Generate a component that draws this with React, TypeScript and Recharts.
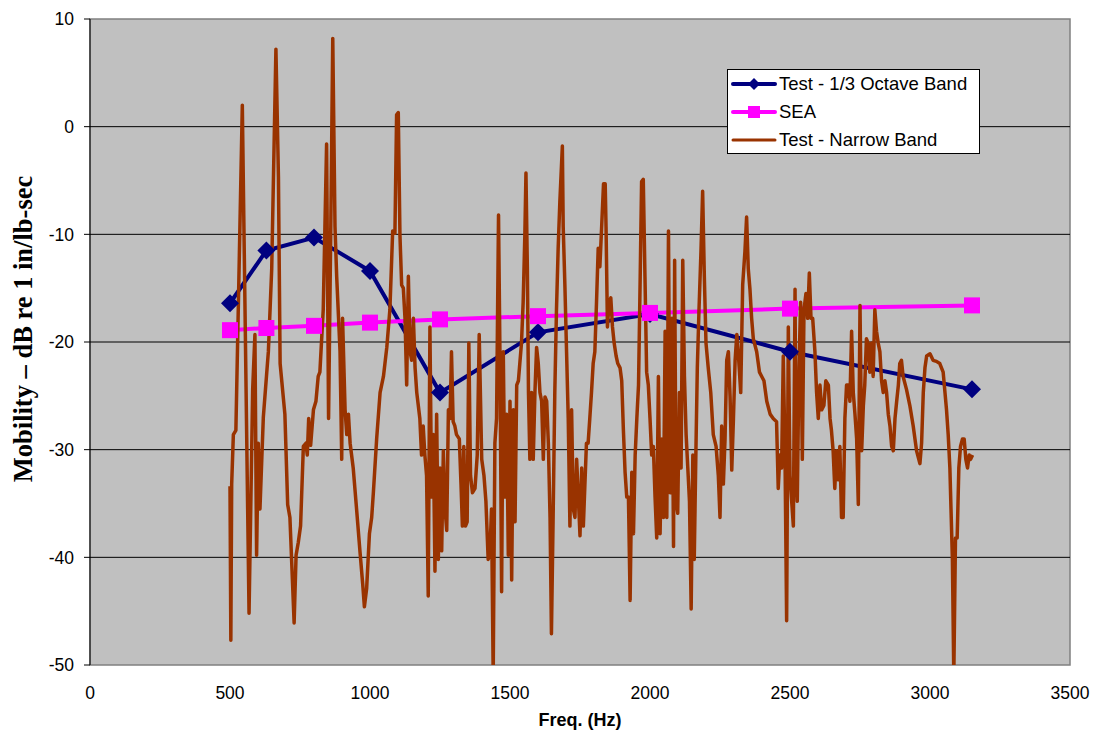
import React from 'react';
import { LineChart, Line, XAxis, YAxis, ReferenceLine, ReferenceArea, Legend, Label } from 'recharts';

const OCTAVE_FREQ = [500, 630, 800, 1000, 1250, 1600, 2000, 2500, 3150];
const OCTAVE_TEST = [-16.4, -11.5, -10.3, -13.4, -24.7, -19.1, -17.4, -20.9, -24.4];
const SEA_VALUES = [-18.9, -18.7, -18.5, -18.2, -17.9, -17.6, -17.3, -16.9, -16.6];

const NARROW_FREQ = [
  500, 503, 506, 512, 521, 544, 568, 581, 589, 595, 601, 607, 619, 637, 649, 664, 673, 679, 696, 706,
  714, 729, 736, 744, 752, 762, 771, 776, 781, 788, 798, 807, 815, 821, 833, 839, 845, 852, 860, 867,
  875, 881, 893, 899, 902, 911, 917, 923, 929, 940, 952, 964, 974, 980, 988, 998, 1006, 1012, 1024, 1036,
  1048, 1060, 1071, 1081, 1089, 1095, 1101, 1107, 1113, 1119, 1125, 1131, 1137, 1143,
  1149, 1155, 1161, 1167, 1178, 1184, 1190, 1196, 1202, 1208, 1214, 1220, 1226, 1232, 1238, 1244, 1250,
  1256, 1262, 1268, 1274, 1280, 1286, 1291, 1297, 1303, 1309, 1319, 1325, 1330, 1335, 1341, 1347, 1353,
  1359, 1366, 1375, 1383, 1390, 1399, 1407, 1414, 1422, 1428, 1434, 1440, 1446, 1452, 1459, 1464, 1470,
  1476, 1482, 1488, 1494, 1500, 1506, 1512, 1518, 1524, 1530, 1535, 1541, 1547, 1553, 1557, 1562, 1566,
  1571, 1577, 1583, 1589, 1595, 1601, 1607, 1613, 1619, 1625, 1631, 1637, 1643, 1648, 1654, 1660, 1666,
  1672, 1678, 1687, 1690, 1696, 1702, 1708, 1714, 1720, 1726, 1732, 1738, 1744, 1750, 1756, 1762, 1767,
  1773, 1779, 1785, 1791, 1797, 1803, 1809, 1815, 1821,
  1828, 1834, 1840, 1843, 1848, 1854, 1860, 1866, 1872, 1879, 1885, 1893, 1899, 1905, 1911, 1917, 1923,
  1929, 1935, 1941, 1947, 1953, 1959, 1965, 1970, 1976, 1982, 1988, 1994, 2000, 2006, 2012, 2018, 2024,
  2030, 2036, 2042, 2048, 2054, 2060, 2066, 2072, 2078, 2084, 2088, 2093, 2099, 2105, 2111, 2117, 2123,
  2129, 2135, 2141, 2147, 2153, 2158, 2164, 2169, 2175, 2182, 2188, 2194, 2200, 2208, 2217, 2226, 2236,
  2244, 2250, 2256, 2262, 2268, 2274, 2280, 2286, 2292, 2298, 2304, 2310, 2316, 2324, 2331, 2339, 2345,
  2351, 2357, 2363, 2369, 2381, 2391, 2399, 2407, 2417, 2429, 2440, 2452, 2458, 2464, 2470, 2476, 2482,
  2488, 2494,
  2500, 2506, 2512, 2518, 2521, 2526, 2532, 2538, 2544, 2550, 2557, 2563, 2569, 2575, 2581, 2589, 2595,
  2601, 2607, 2613, 2621, 2628, 2637, 2643, 2648, 2654, 2660, 2666, 2672, 2678, 2684, 2690, 2696, 2702,
  2708, 2714, 2720, 2726, 2732, 2738, 2744, 2750, 2756, 2762, 2767, 2773, 2779, 2785, 2791, 2797, 2803,
  2809, 2815, 2821, 2827, 2833, 2839, 2845, 2851, 2857, 2863, 2869, 2875, 2881, 2887, 2892, 2898, 2904,
  2916, 2928, 2940, 2952, 2964, 2970, 2976, 2982, 2988, 3000, 3011, 3023, 3035, 3047, 3059, 3065, 3071,
  3075, 3080, 3085, 3091, 3097, 3103, 3109, 3116, 3122, 3128, 3134, 3140, 3145, 3152,
];

const NARROW_DB = [
  -33.4, -47.7, -33.2, -28.6, -28.2, 2.0, -45.2, -24.4, -19.3, -39.8, -29.4, -35.5, -27.0, -20.9, -13.2, 7.2, -4.7, -22.0, -26.7, -35.1,
  -36.3, -46.1, -39.8, -38.6, -37.1, -29.7, -29.4, -30.5, -27.1, -29.6, -26.3, -25.5, -23.2, -22.8, -17.0, -9.3, -1.6, -27.1, -9.3, 8.2,
  -9.3, -13.9, -20.9, -30.9, -17.8, -26.3, -28.6, -26.7, -29.4, -31.7, -35.5, -39.4, -42.5, -44.6, -42.9, -37.8, -36.3, -34.0, -28.9, -24.7,
  -23.2, -20.5, -17.0, -9.7, -9.9, 1.1, 1.3, -10.1, -14.7, -15.0, -17.8, -24.0, -13.9, -20.9,
  -21.7, -17.8, -22.4, -24.7, -27.1, -30.5, -27.8, -30.5, -32.4, -43.6, -18.6, -34.4, -28.6, -41.3, -26.7, -40.2, -31.7,
  -39.4, -30.1, -35.5, -37.5, -26.3, -27.1, -20.9, -27.4, -27.8, -28.6, -29.0, -33.2, -37.1, -29.7, -37.1, -36.7, -20.1,
  -32.4, -34.0, -33.6, -30.5, -19.3, -30.9, -32.4, -34.8, -40.2, -39.8, -35.5, -51.0, -29.4, -27.1, -8.2, -20.9, -43.2,
  -20.9, -34.4, -26.7, -39.8, -25.5, -42.1, -26.3, -36.7, -24.0, -23.6, -22.0, -20.1, -16.3, -10.1, -4.3, -13.2, -24.7,
  -30.9, -24.7, -30.9, -24.7, -20.5, -22.0, -24.7, -25.5, -30.9, -25.1, -25.5, -29.4, -36.3, -47.1, -36.3, -24.7, -17.0,
  -11.3, -7.0, -1.8, -9.3, -14.7, -20.9, -27.1, -37.1, -26.3, -35.5, -36.3, -30.9, -34.4, -38.0, -31.7, -37.1, -33.6,
  -29.4, -29.4, -27.1, -24.7, -22.0, -20.9, -16.3, -11.3, -13.0,
  -8.9, -5.3, -5.3, -9.3, -18.6, -16.3, -15.9, -18.6, -20.1, -21.3, -22.0, -22.4, -23.6, -28.2, -32.1, -34.4, -34.4,
  -44.0, -32.1, -37.8, -30.5, -27.1, -24.0, -13.9, -5.1, -4.9, -13.9, -22.8, -24.0, -27.1, -30.5, -29.7, -34.4, -38.2,
  -23.2, -37.8, -29.0, -36.3, -19.0, -36.3, -9.7, -34.0, -17.8, -39.0, -12.4, -34.8, -35.9, -24.7, -31.7, -12.4, -23.2,
  -28.6, -31.7, -34.8, -44.8, -30.5, -40.2, -30.1, -22.4, -17.0, -11.6, -6.0, -13.9, -20.1, -22.4, -24.7, -28.6, -29.7,
  -32.4, -36.3, -27.8, -33.2, -29.0, -21.7, -20.9, -25.1, -31.9, -27.1, -21.7, -19.3, -21.3, -24.7, -14.7, -11.6, -8.4,
  -13.2, -15.1, -17.8, -19.7, -20.9, -22.8, -23.2, -23.6, -25.5, -26.7, -27.1, -27.4, -33.6, -30.5, -31.7, -21.3, -30.1,
  -45.9, -18.6,
  -32.4, -34.8, -37.1, -15.1, -31.7, -34.8, -22.4, -16.3, -30.9, -17.0, -15.5, -17.8, -13.6, -17.8, -17.8, -20.9, -24.7,
  -27.1, -24.0, -26.3, -25.9, -23.6, -24.0, -27.1, -28.2, -30.1, -33.6, -30.1, -32.8, -29.7, -36.3, -36.3, -27.1, -24.0,
  -24.0, -25.5, -19.0, -24.7, -26.7, -29.0, -35.1, -16.6, -30.1, -25.9, -24.0, -19.7, -20.1, -22.8, -20.1, -23.2, -17.0,
  -19.0, -20.1, -20.9, -23.6, -24.7, -23.6, -24.7, -26.7, -27.8, -29.7, -30.1, -27.1, -25.5, -24.0, -22.0, -21.7, -23.2,
  -24.4, -25.9, -27.8, -30.1, -31.3, -29.4, -24.7, -22.4, -21.3, -21.1, -21.7, -21.8, -22.0, -22.8, -26.3, -28.6, -31.7,
  -35.5, -40.2, -51.0, -38.2, -38.2, -31.7, -29.7, -29.0, -29.0, -30.9, -31.7, -30.5, -30.9, -30.5,
];

const X_TICKS = [0, 500, 1000, 1500, 2000, 2500, 3000, 3500];
const Y_TICKS = [-50, -40, -30, -20, -10, 0, 10];
const GRID_VALUES = [0, -10, -20, -30, -40];

const SANS = '"Liberation Sans", Arial, sans-serif';
const SERIF = '"Liberation Serif", "Times New Roman", serif';
const BLUE = '#000080';
const PINK = '#FF00FF';
const BROWN = '#993300';

const octaveData = OCTAVE_FREQ.map((freq, i) => ({ freq, test: OCTAVE_TEST[i], sea: SEA_VALUES[i] }));
const narrowData = NARROW_FREQ.map((freq, i) => ({ freq, narrow: NARROW_DB[i] }));

const renderDiamond = (props: any) => {
  const { cx, cy, index } = props;
  const r = 9;
  return (
    <polygon
      key={`dia-${index}`}
      points={`${cx},${cy - r} ${cx + r},${cy} ${cx},${cy + r} ${cx - r},${cy}`}
      fill={BLUE}
    />
  );
};

const renderSquare = (props: any) => {
  const { cx, cy, index } = props;
  const s = 16;
  return <rect key={`sq-${index}`} x={cx - s / 2} y={cy - s / 2} width={s} height={s} fill={PINK} />;
};

const LEGEND_ITEMS = [
  { label: 'Test - 1/3 Octave Band', color: BLUE, width: 4, marker: 'diamond' },
  { label: 'SEA', color: PINK, width: 4, marker: 'square' },
  { label: 'Test - Narrow Band', color: BROWN, width: 3, marker: 'none' },
];

const LegendBox = () => (
  <div
    style={{
      width: 253,
      height: 85,
      background: '#fff',
      border: '1px solid #000',
      boxSizing: 'border-box',
      fontFamily: SANS,
      fontSize: 18.5,
      color: '#000',
    }}
  >
    {LEGEND_ITEMS.map((item) => (
      <div key={item.label} style={{ display: 'flex', alignItems: 'center', height: 28 }}>
        <svg width={51} height={28} style={{ display: 'block' }}>
          <line x1={5} x2={47} y1={14} y2={14} stroke={item.color} strokeWidth={item.width} strokeLinecap="round" />
          {item.marker === 'diamond' && <polygon points="26,8 32,14 26,20 20,14" fill={item.color} />}
          {item.marker === 'square' && <rect x={20} y={8} width={12} height={12} fill={item.color} />}
        </svg>
        <span style={{ whiteSpace: 'nowrap' }}>{item.label}</span>
      </div>
    ))}
  </div>
);

const renderYLabel = (props: any) => {
  const { viewBox } = props;
  const x = viewBox.x - 7;
  const y = viewBox.y + viewBox.height / 2 - 13;
  return (
    <text
      x={x}
      y={y}
      transform={`rotate(-90, ${x}, ${y})`}
      textAnchor="middle"
      dominantBaseline="central"
      fontFamily={SERIF}
      fontWeight="bold"
      fontSize={26.5}
      fill="#000"
    >
      Mobility – dB re 1 in/lb-sec
    </text>
  );
};

const renderXLabel = (props: any) => {
  const { viewBox } = props;
  return (
    <text
      x={viewBox.x + viewBox.width / 2}
      y={viewBox.y + 61}
      textAnchor="middle"
      fontFamily={SANS}
      fontWeight="bold"
      fontSize={18}
      fill="#000"
    >
      Freq. (Hz)
    </text>
  );
};

const App: React.FC = () => {
  return (
    <div style={{ position: 'absolute', left: 0, top: 0, width: 1094, height: 738, background: '#fff' }}>
      <LineChart width={1094} height={738} margin={{ top: 19, right: 24, bottom: 23, left: 30 }}>
        <XAxis
          type="number"
          dataKey="freq"
          domain={[0, 3500]}
          ticks={X_TICKS}
          allowDataOverflow
          axisLine={false}
          tickLine={false}
          tickSize={6}
          tickMargin={16}
          height={50}
          tick={{ fill: '#000', fontSize: 17.5, fontFamily: SANS }}
        >
          <Label content={renderXLabel} />
        </XAxis>
        <YAxis
          type="number"
          domain={[-50, 10]}
          ticks={Y_TICKS}
          allowDataOverflow
          width={60}
          axisLine={{ stroke: '#000', strokeWidth: 1 }}
          tickLine={{ stroke: '#000' }}
          tickSize={6}
          tickMargin={10}
          tick={{ fill: '#000', fontSize: 17.5, fontFamily: SANS }}
        >
          <Label content={renderYLabel} />
        </YAxis>
        <ReferenceArea x1={0} x2={3500} y1={-50} y2={10} fill="#C0C0C0" fillOpacity={1} stroke="#808080" strokeWidth={1.5} />
        {GRID_VALUES.map((v) => (
          <ReferenceLine key={v} y={v} stroke="#000" strokeWidth={1} />
        ))}
        <Line
          data={octaveData}
          dataKey="test"
          name="Test - 1/3 Octave Band"
          stroke={BLUE}
          strokeWidth={4}
          dot={renderDiamond}
          activeDot={false}
          isAnimationActive={false}
        />
        <Line
          data={octaveData}
          dataKey="sea"
          name="SEA"
          stroke={PINK}
          strokeWidth={4}
          dot={renderSquare}
          activeDot={false}
          isAnimationActive={false}
        />
        <Line
          data={narrowData}
          dataKey="narrow"
          name="Test - Narrow Band"
          stroke={BROWN}
          strokeWidth={3.5}
          dot={false}
          activeDot={false}
          strokeLinejoin="round"
          isAnimationActive={false}
        />
        <Legend
          verticalAlign="middle"
          content={() => <LegendBox />}
          wrapperStyle={{ position: 'absolute', left: 727, top: 69, width: 253, height: 85 }}
        />
      </LineChart>
    </div>
  );
};

export default App;
